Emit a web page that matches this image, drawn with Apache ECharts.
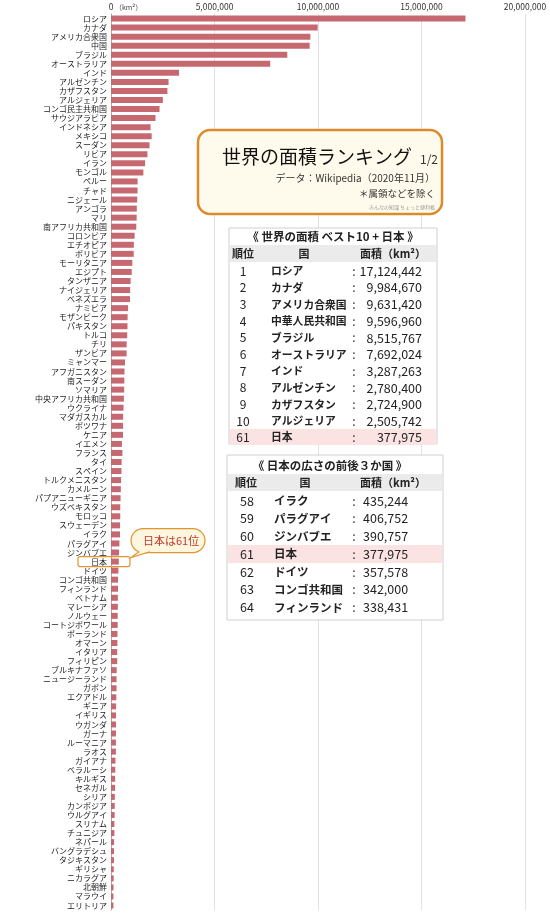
<!DOCTYPE html>
<html><head><meta charset="utf-8">
<script src="https://cdn.jsdelivr.net/npm/echarts@6/dist/echarts.min.js"></script>
<style>html,body{margin:0;padding:0;background:#fff}#c{width:550px;height:913px}</style>
</head><body><div id="c"></div>
<script>
const countries = ['ロシア','カナダ','アメリカ合衆国','中国','ブラジル','オーストラリア','インド','アルゼンチン','カザフスタン','アルジェリア',
'コンゴ民主共和国','サウジアラビア','インドネシア','メキシコ','スーダン','リビア','イラン','モンゴル','ペルー','チャド',
'ニジェール','アンゴラ','マリ','南アフリカ共和国','コロンビア','エチオピア','ボリビア','モーリタニア','エジプト','タンザニア',
'ナイジェリア','ベネズエラ','ナミビア','モザンビーク','パキスタン','トルコ','チリ','ザンビア','ミャンマー','アフガニスタン',
'南スーダン','ソマリア','中央アフリカ共和国','ウクライナ','マダガスカル','ボツワナ','ケニア','イエメン','フランス','タイ',
'スペイン','トルクメニスタン','カメルーン','パプアニューギニア','ウズベキスタン','モロッコ','スウェーデン','イラク','パラグアイ','ジンバブエ',
'日本','ドイツ','コンゴ共和国','フィンランド','ベトナム','マレーシア','ノルウェー','コートジボワール','ポーランド','オマーン',
'イタリア','フィリピン','ブルキナファソ','ニュージーランド','ガボン','エクアドル','ギニア','イギリス','ウガンダ','ガーナ',
'ルーマニア','ラオス','ガイアナ','ベラルーシ','キルギス','セネガル','シリア','カンボジア','ウルグアイ','スリナム',
'チュニジア','ネパール','バングラデシュ','タジキスタン','ギリシャ','ニカラグア','北朝鮮','マラウイ','エリトリア'];
const areas = [17124442,9984670,9631420,9596960,8515767,7692024,3287263,2780400,2724900,2505742,
2344858,2149690,1910931,1964375,1861484,1759540,1648195,1564116,1285216,1284000,
1267000,1246700,1240192,1221037,1141748,1104300,1098581,1030700,1002450,947303,
923768,916445,825615,801590,796095,783562,756102,752618,676578,652230,
644329,637657,622984,603500,587041,582000,580367,527968,551500,513120,
505990,488100,475442,462840,448978,446550,438574,435244,406752,390757,
377975,357578,342000,338431,331212,330803,323802,322463,312696,309500,
301339,300000,274222,268838,267668,256369,245857,242495,241550,238533,
238397,236800,214969,207600,199951,196722,185180,181035,176215,163820,
163610,147516,147181,143100,131957,130373,120538,118484,117600];
const xTicks = [0, 5000000, 10000000, 15000000, 20000000];

const top10Ranks = ['1','2','3','4','5','6','7','8','9','10','61'];
const top10Names = ['ロシア','カナダ','アメリカ合衆国','中華人民共和国','ブラジル','オーストラリア','インド','アルゼンチン','カザフスタン','アルジェリア','日本'];
const top10Areas = [17124442,9984670,9631420,9596960,8515767,7692024,3287263,2780400,2724900,2505742,377975];
const nearRanks = ['58','59','60','61','62','63','64'];
const nearNames = ['イラク','パラグアイ','ジンバブエ','日本','ドイツ','コンゴ共和国','フィンランド'];
const nearAreas = [435244,406752,390757,377975,357578,342000,338431];

const FF = '"Noto Sans CJK JP", "Noto Sans", sans-serif';
const fmt = v => v.toLocaleString('en-US');
const chart = echarts.init(document.getElementById('c'));
chart.setOption({
  animation: false,
  grid: {left: 111, right: 25, top: 14, bottom: 3, containLabel: false},
  xAxis: {
    type: 'value', position: 'top', min: xTicks[0], max: xTicks[xTicks.length-1], interval: xTicks[1]-xTicks[0],
    axisLine: {show: false}, axisTick: {show: false},
    axisLabel: {fontSize: 8.5, color: '#333', margin: 3, fontFamily: FF, formatter: v => v === 0 ? '0' : fmt(v)},
    splitLine: {show: true, lineStyle: {color: '#e2e2e2', width: 1}}
  },
  yAxis: {
    type: 'category', data: countries, inverse: true,
    axisLine: {show: true, lineStyle: {color: '#aaa'}}, axisTick: {show: false},
    axisLabel: {interval: 0, fontSize: 8, color: '#222', margin: 4, fontFamily: FF}
  },
  series: [{type: 'bar', data: areas, barWidth: 6, itemStyle: {color: '#c66870'}, silent: true}]
});

const jy = chart.convertToPixel({yAxisIndex: 0}, '日本');
const G = [];
const txt = (x, y, text, font, fill, align) => G.push({type: 'text', x, y, z: 100,
  style: {text, font, fill: fill || '#222', textAlign: align || 'left', textVerticalAlign: 'middle'}});
const rect = (x, y, w, h, style, r) => G.push({type: 'rect', z: 99, shape: {x, y, width: w, height: h, r: r || 0}, style});

// km2 unit next to 0
txt(115, 7, '（km²）', '7px ' + FF, '#444');

// title box
rect(198, 130, 244, 84, {fill: '#fffbec', stroke: '#dc8a2a', lineWidth: 2.5}, 12);
txt(222, 157, '世界の面積ランキング', '19px ' + FF, '#111');
txt(420, 159, '1/2', '12px ' + FF, '#333');
txt(435, 178, 'データ：Wikipedia（2020年11月）', '10px ' + FF, '#333', 'right');
txt(435, 193, '＊属領などを除く', '9.5px ' + FF, '#333', 'right');
txt(435, 207, 'みんなの知識 ちょっと便利帳', '5px ' + FF, '#999', 'right');

// table 1
rect(229, 228, 208, 216, {fill: '#fff', stroke: '#d0d0d0', lineWidth: 1});
txt(333, 237, '《 世界の面積 ベスト10 + 日本 》', 'bold 11.5px ' + FF, '#222', 'center');
rect(230, 245, 206, 17, {fill: '#ebebeb'});
txt(243, 253.5, '順位', 'bold 11px ' + FF, '#222', 'center');
txt(304, 253.5, '国', 'bold 11px ' + FF, '#222', 'center');
txt(393, 253.5, '面積（km²）', 'bold 11px ' + FF, '#222', 'center');
rect(230, 429, 206, 16, {fill: '#fbe3e3'});
top10Ranks.forEach((r, i) => {
  const y = i < 10 ? 271 + i * 16.7 : 437.3;
  txt(243, y, r, '12px ' + FF, '#222', 'center');
  txt(271, y, top10Names[i], 'bold 10.8px ' + FF, '#222');
  txt(354, y, ':', '12px ' + FF, '#222', 'center');
  txt(422, y, fmt(top10Areas[i]), '12.5px ' + FF, '#222', 'right');
});

// table 2
rect(227, 455, 216, 165, {fill: '#fff', stroke: '#d0d0d0', lineWidth: 1});
txt(330, 466, '《 日本の広さの前後３か国 》', 'bold 11.5px ' + FF, '#222', 'center');
rect(228, 474, 214, 17, {fill: '#ebebeb'});
txt(246, 483, '順位', 'bold 11px ' + FF, '#222', 'center');
txt(305, 483, '国', 'bold 11px ' + FF, '#222', 'center');
txt(393, 483, '面積（km²）', 'bold 11px ' + FF, '#222', 'center');
rect(228, 545, 214, 18, {fill: '#fbe3e3'});
nearRanks.forEach((r, i) => {
  const y = 501 + i * 17.7;
  txt(247, y, r, '12.5px ' + FF, '#222', 'center');
  txt(274, y, nearNames[i], 'bold 11.5px ' + FF, '#222');
  txt(354, y, ':', '12.5px ' + FF, '#222', 'center');
  txt(363, y, fmt(nearAreas[i]), '12.5px ' + FF, '#222');
});

// callout
const OR = '#e0962e';
rect(78, jy - 5, 52, 10, {fill: 'none', stroke: OR, lineWidth: 1.2}, 2);
rect(131, jy - 33, 74, 24, {fill: '#fff6df', stroke: OR, lineWidth: 1.2}, 12);
G.push({type: 'polygon', z: 100, shape: {points: [[139, jy - 10.2], [150, jy - 10.2], [131, jy - 4]]}, style: {fill: '#fff6df'}});
G.push({type: 'polyline', z: 100, shape: {points: [[139, jy - 9.8], [131, jy - 4], [150, jy - 9.8]]}, style: {stroke: OR, lineWidth: 1.2, fill: 'none'}});
txt(143, jy - 21, '日本は61位', '11px ' + FF, '#c0392b');

chart.setOption({graphic: G});
</script></body></html>
